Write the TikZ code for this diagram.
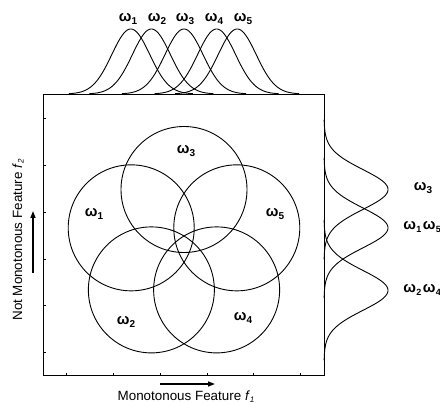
\documentclass[tikz,border=0pt]{standalone}
\usepackage{fontspec}
\setmainfont{Liberation Sans}
\usetikzlibrary{arrows.meta,calc}
\newcommand\omg[1]{ω\raisebox{-0.4ex}{\fontsize{10}{10}\selectfont #1}}
\newcommand\omgs[1]{ω\kern0.3pt\raisebox{-0.4ex}{\fontsize{9}{9}\selectfont #1}}
\begin{document}
\begin{tikzpicture}[x=1pt,y=-1pt,line width=0.9pt,
  lab/.style={font=\fontsize{15}{15}\selectfont\bfseries, inner sep=0pt},
  axlab/.style={font=\fontsize{13.4}{13.4}\selectfont, inner sep=0pt},
  ring/.style={circle, draw, minimum size=126pt, inner sep=0pt},
  arr/.style={line width=1.4pt, -{Triangle[length=7pt,width=5pt]}},
  tick/.style={line width=0.6pt}]
\useasboundingbox (0,0) rectangle (440,403);
% frame
\node[draw, minimum size=281pt, inner sep=0pt, anchor=north west] (box) at (43,94) {};
\foreach \k in {0,...,5} {
  \draw[tick] ($(box.south west)+({23.4+46.83*\k},0)$) -- ++(0,-3);
  \draw[tick] ($(box.south west)+(0,{-23.4-46.83*\k})$) -- ++(3,0);
}
% circles
\def\cx{184}\def\cy{245}\def\R{55.5}
\node[ring] (c3) at (\cx,{\cy-\R}) {};
\node[ring] (c1) at ({\cx-0.951*\R},{\cy-0.309*\R}) {};
\node[ring] (c5) at ({\cx+0.951*\R},{\cy-0.309*\R}) {};
\node[ring] (c2) at ({\cx-0.588*\R},{\cy+0.809*\R}) {};
\node[ring] (c4) at ({\cx+0.588*\R},{\cy+0.809*\R}) {};
\node[lab] (l3) at (186,151) {\omg{3}};
\node[lab] (l1) at (94,214) {\omg{1}};
\node[lab] (l5) at (275,214) {\omg{5}};
\node[lab] (l2) at (126,322) {\omg{2}};
\node[lab] (l4) at (243,318) {\omg{4}};
% top gaussians
\foreach \m in {130.8,151.4,184,216.6,237.2} {
  \draw plot[domain={\m-62}:{\m+62}, samples=90, smooth] (\x, {94-65*exp(-((\x-\m)^2)/(2*19^2))});
}
\foreach \i/\xx in {1/128,2/157,3/185,4/214,5/243} {
  \node[lab] (t\i) at (\xx,19) {\omg{\i}};
}
% right gaussians
\foreach \m in {189.5,227.9,290.4} {
  \draw plot[domain={\m-70}:{\m+70}, samples=90, smooth] ({324+64*exp(-((\x-\m)^2)/(2*20^2))}, \x);
}
\node[lab] (r3) at (423,188) {\omg{3}};
\node[lab, anchor=west] (r15) at (403,227) {\omgs{1}\hspace{1.5pt}\omgs{5}};
\node[lab, anchor=west] (r24) at (403,290) {\omgs{2}\hspace{1.5pt}\omgs{4}};
% axes labels
\node[axlab, anchor=base] (xl) at (186,401) {Monotonous Feature \textit{f}\raisebox{-0.2ex}{\fontsize{8}{8}\selectfont\itshape 1}};
\coordinate (xa0) at (160,384);
\coordinate (xa1) at (215,384);
\draw[arr] (xa0) -- (xa1);
\node[axlab, rotate=90] (yl) at (18,240) {Not Monotonous Feature \textit{f}\raisebox{-0.2ex}{\fontsize{8}{8}\selectfont\itshape 2}};
\coordinate (ya0) at (33,273);
\coordinate (ya1) at (33,211);
\draw[arr] (ya0) -- (ya1);
\end{tikzpicture}
\end{document}
